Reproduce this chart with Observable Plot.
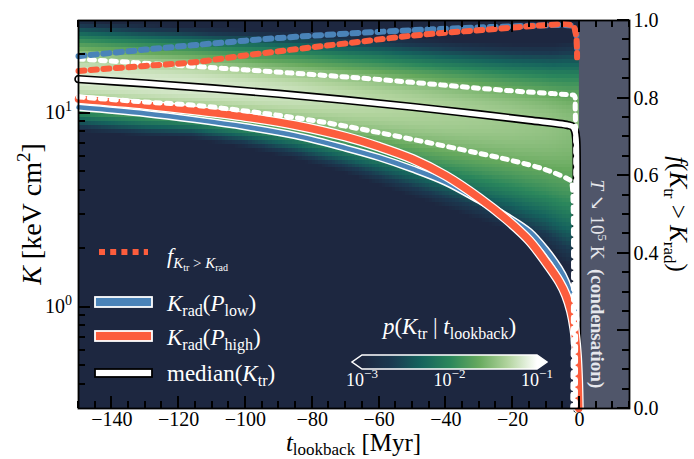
<!DOCTYPE html>
<html>
<head>
<meta charset="utf-8">
<script src="https://cdn.jsdelivr.net/npm/d3@7"></script>
<script src="https://cdn.jsdelivr.net/npm/@observablehq/plot@0.6"></script>
<style>
  html, body { margin: 0; padding: 0; background: #fff; }
  #chart svg { display: block; }
</style>
</head>
<body>
<div id="chart"></div>
<script>
const serif = "'Liberation Serif', 'Times New Roman', 'DejaVu Serif', serif";

// Axis extents and ticks
const tDomain = [-150, 15];            // lookback time [Myr]
const kDomain = [0.3, 30];             // entropy K [keV cm^2]
const xTickValues = [-140, -120, -100, -80, -60, -40, -20, 0];
const kDecades = [1, 10];
const fTickValues = [0, 0.2, 0.4, 0.6, 0.8, 1.0];
const condensationSpan = [0, 15];      // T drops below 1e5 K

// Colour map of the conditional density p(K_tr | t_lookback)
const densityDomain = [1e-3, 1e-1];
const densityTicks = [1e-3, 1e-2, 1e-1];
const densityColors = ["#1d2740", "#1b3950", "#15625d", "#2a865c", "#66a95d", "#b2d49e", "#ffffff"];

// Median of K_tr
const medianT = [-150, -130, -110, -90, -70, -50, -30, -15, -3.5, -2.0, -1.3, -0.95, -0.8, -0.75];
const medianK = [14.96, 14.21, 13.41, 12.56, 11.67, 10.76, 9.85, 9.18, 8.67, 8.5, 8.05, 7.3, 5.5, 0.3];

// 84th percentile of K_tr
const upperT = [-150, -120, -100, -80, -60, -40, -20, -8, -2.5, -1.5, -1.25, -1.2];
const upperK = [19.0, 17.6, 16.7, 15.8, 14.9, 13.9, 13.0, 12.6, 12.4, 12.3, 10.5, 0.3];

// 16th percentile of K_tr
const lowerT = [-150, -130, -116, -100, -85, -70, -50, -30, -20, -10, -3.5, -2.5, -2.1, -2.0];
const lowerK = [12.1, 11.4, 11.0, 10.25, 9.46, 8.56, 7.32, 6.2, 5.68, 5.1, 4.58, 4.45, 4.15, 0.3];

// Radiative-cooling entropy for the low and high pressure
const radLowT = [-150, -130, -115, -100, -85, -70, -60, -50, -40, -30, -22, -15, -10, -6, -4, -2.5, -1.5, -1.1];
const radLowK = [10.7, 9.95, 9.25, 8.5, 7.65, 6.6, 5.9, 5.15, 4.4, 3.55, 2.95, 2.45, 1.97, 1.58, 1.36, 1.14, 0.96, 0.86];
const radHighT = [-150, -130, -115, -100, -85, -70, -60, -50, -40, -30, -22, -15, -10, -6, -4, -2.5, -1.5, -0.8, -0.4, -0.2];
const radHighK = [11.8, 11.0, 10.3, 9.55, 8.65, 7.55, 6.7, 5.8, 4.75, 3.65, 2.85, 2.2, 1.7, 1.35, 1.15, 0.95, 0.77, 0.58, 0.42, 0.3];

// Fraction of tracers with K_tr > K_rad (right axis)
const fracT = [-150, -130, -116, -100, -85, -70, -50, -30, -12, -3.5, -1.8, -1.0, -0.75, -0.7];
const fracLow = [0.908, 0.925, 0.936, 0.948, 0.958, 0.966, 0.975, 0.982, 0.987, 0.988, 0.984, 0.965, 0.935, 0.915];
const fracHigh = [0.870, 0.883, 0.892, 0.910, 0.926, 0.941, 0.961, 0.975, 0.987, 0.990, 0.985, 0.962, 0.930, 0.905];

// ---------------------------------------------------------------------------
const RED = "#fc5d3d", BLUE = "#4a83b8", SLATE = "#50566a";
const ramp = d3.piecewise(d3.interpolateRgb, densityColors);

// f in [0, 1] shares the vertical extent of the log K axis
const fToK = f => kDomain[0] * Math.pow(kDomain[1] / kDomain[0], f);
const kToF = k => Math.log(k / kDomain[0]) / Math.log(kDomain[1] / kDomain[0]);
const rows = (ts, vs) => ts.map((t, i) => ({t, v: vs[i]}));

// Piecewise-linear interpolation in log K, held constant outside the nodes
function logInterp(ts, ks, tMax) {
  const pts = ts.map((t, i) => [t, Math.log10(ks[i])]).filter(p => p[0] <= tMax);
  return t => {
    if (t <= pts[0][0]) return pts[0][1];
    for (let i = 1; i < pts.length; i++) {
      if (t <= pts[i][0]) {
        const a = pts[i - 1], b = pts[i], u = (t - a[0]) / (b[0] - a[0]);
        return a[1] + u * (b[1] - a[1]);
      }
    }
    return pts[pts.length - 1][1];
  };
}

// Density grid: per-time distribution of log K built from the median and percentiles
const tBin = 1, logBin = 0.02, peakScale = 0.85;
const med = logInterp(medianT, medianK, -3), hi = logInterp(upperT, upperK, -3), lo = logInterp(lowerT, lowerK, -3);
const cells = [];
const logMin = Math.log10(kDomain[0]), nRows = Math.round((Math.log10(kDomain[1]) - logMin) / logBin);
for (let t0 = tDomain[0]; t0 < condensationSpan[0]; t0 += tBin) {
  const tc = t0 + tBin / 2, m = med(tc), su = hi(tc) - m, sl = m - lo(tc);
  const peak = peakScale * logBin / (Math.sqrt(2 * Math.PI) * (su + sl) / 2);
  for (let r = 0; r < nRows; r++) {
    const l0 = logMin + r * logBin, d = l0 + logBin / 2 - m, s = d > 0 ? su : sl;
    const p = peak * Math.exp(-0.5 * (d / s) ** 2);
    if (p > 7e-4) cells.push({x1: t0, x2: t0 + tBin, y1: 10 ** l0, y2: 10 ** (l0 + logBin), p});
  }
}

const W = 694, H = 459, mL = 78, mR = 65, mT = 20, mB = 51;
const majorLen = 12, minorLen = 7;
const xMinor = d3.range(tDomain[0], tDomain[1] + 0.1, 5);
const kMinor = [0.4, 0.5, 0.6, 0.7, 0.8, 0.9, 2, 3, 4, 5, 6, 7, 8, 9, 20];
const fMinor = d3.range(0.05, 1, 0.05);

const line = (data, opts) => Plot.line(data, {x: "t", y: "v", curve: "catmull-rom", strokeLinejoin: "round", ...opts});
const fline = (data, opts) => Plot.line(data, {x: "t", y: d => fToK(d.v), curve: "catmull-rom", ...opts});

const plot = Plot.plot({
  width: W, height: H,
  marginLeft: mL, marginRight: mR, marginTop: mT, marginBottom: mB,
  x: {domain: tDomain, axis: null},
  y: {type: "log", domain: kDomain, axis: null},
  color: {type: "log", domain: densityDomain, interpolate: ramp, clamp: true},
  style: {fontFamily: serif, fontSize: "20px", background: "#fff", color: "#000", overflow: "visible"},
  marks: [
    Plot.frame({fill: ramp(0), stroke: null}),
    Plot.rect(cells, {x1: "x1", x2: "x2", y1: "y1", y2: "y2", fill: "p", shapeRendering: "crispEdges"}),
    Plot.rect([condensationSpan], {x1: d => d[0], x2: d => d[1], fill: SLATE}),

    // median
    line(rows(medianT, medianK), {stroke: "black", strokeWidth: 8.5}),
    line(rows(medianT, medianK), {stroke: "white", strokeWidth: 5.2}),
    // K_rad curves
    line(rows(radLowT, radLowK), {stroke: "white", strokeWidth: 7.5}),
    line(rows(radLowT, radLowK), {stroke: BLUE, strokeWidth: 4.5}),
    line(rows(radHighT, radHighK), {stroke: "white", strokeWidth: 10}),
    line(rows(radHighT, radHighK), {stroke: RED, strokeWidth: 7.5}),
    // percentiles
    line(rows(upperT, upperK), {stroke: "white", strokeWidth: 5, strokeDasharray: "5 6"}),
    line(rows(lowerT, lowerK), {stroke: "white", strokeWidth: 5, strokeDasharray: "5 6"}),
    // fractions on the right axis
    fline(rows(fracT, fracLow), {stroke: BLUE, strokeWidth: 6, strokeDasharray: "6 6.5"}),
    fline(rows(fracT, fracHigh), {stroke: RED, strokeWidth: 6, strokeDasharray: "6 6.5"}),

    Plot.axisX({anchor: "bottom", ticks: xTickValues, tickSize: 0, tickPadding: 3, label: null,
      tickFormat: d => d < 0 ? "\u2212" + (-d) : String(d)}),
    Plot.axisY({anchor: "right", ticks: fTickValues.map(fToK), tickSize: 0, tickPadding: 4, label: null,
      tickFormat: k => kToF(k).toFixed(1)}),
    Plot.frame({stroke: "black", strokeWidth: 1.8})
  ]
});
document.getElementById("chart").appendChild(plot);

// ---------------------------------------------------------------------------
const svg = d3.select(plot);
const X = plot.scale("x"), Y = plot.scale("y"), C = plot.scale("color");
const frameLeft = X.apply(tDomain[0]), frameRight = X.apply(tDomain[1]);
const frameTop = Y.apply(kDomain[1]), frameBottom = Y.apply(kDomain[0]);
const midY = (frameTop + frameBottom) / 2;

// Inward ticks on all four sides, positioned with the plot's scales
const tk = svg.append("g").attr("stroke", "#000").attr("stroke-width", 2)
  .attr("fill", "none").attr("shape-rendering", "crispEdges");
const seg = (x1, y1, x2, y2) => tk.append("line").attr("x1", x1).attr("y1", y1).attr("x2", x2).attr("y2", y2);
for (const v of xMinor) {
  const x = X.apply(v), len = xTickValues.includes(v) ? majorLen : minorLen;
  seg(x, frameBottom, x, frameBottom - len);
  seg(x, frameTop, x, frameTop + len);
}
for (const k of kMinor) { const y = Y.apply(k); seg(frameLeft, y, frameLeft + minorLen, y); }
for (const k of kDecades) { const y = Y.apply(k); seg(frameLeft, y, frameLeft + majorLen, y); }
for (const f of fMinor) { const y = Y.apply(fToK(f)); seg(frameRight, y, frameRight - minorLen, y); }
for (const f of fTickValues) { const y = Y.apply(fToK(f)); seg(frameRight, y, frameRight - majorLen, y); }

// Rich text (italics, sub/superscripts) drawn on top of the plot
const g = svg.append("g").attr("font-family", serif);

function rich(x, y, parts, {anchor = "start", rotate = 0, fill = "#000", size = 20} = {}) {
  const text = g.append("text")
    .attr("transform", `translate(${x},${y})` + (rotate ? ` rotate(${rotate})` : ""))
    .attr("text-anchor", anchor).attr("fill", fill).attr("font-size", size);
  let prev = 0;
  for (const p of parts) {
    const o = p.o || 0;
    const s = text.append("tspan").text(p.t).attr("dy", o - prev);
    if (p.s) s.attr("font-size", p.s);
    if (p.i) s.attr("font-style", "italic");
    if (p.b) s.attr("font-weight", "bold");
    prev = o;
  }
  return text;
}

// left tick labels 10^n
for (const k of kDecades) {
  rich(frameLeft - 6, Y.apply(k) + 6, [{t: "10"}, {t: String(Math.round(Math.log10(k))), s: 14, o: -8}], {anchor: "end"});
}

// axis titles
rich((frameLeft + frameRight) / 2, H - 8, [
  {t: "t", i: true}, {t: "lookback", s: 17, o: 4}, {t: "\u00a0[Myr]"}
], {anchor: "middle", size: 25});
rich(41, midY, [
  {t: "K", i: true}, {t: "\u00a0[keV\u00a0cm"}, {t: "2", s: 19, o: -11}, {t: "]"}
], {anchor: "middle", rotate: -90, size: 28});
rich(frameRight + 41, midY, [
  {t: "f", i: true}, {t: "("}, {t: "K", i: true}, {t: "tr", s: 17, o: 6},
  {t: "\u00a0>\u00a0"}, {t: "K", i: true}, {t: "rad", s: 17, o: 6}, {t: ")"}
], {anchor: "middle", rotate: 90, size: 25});

// condensation band label
rich(X.apply(3.6), Y.apply(fToK(0.32)), [
  {t: "T", i: true}, {t: "\u00a0\u2198\u00a010"}, {t: "5", s: 13, o: -7}, {t: "\u00a0K\u00a0\u00a0"},
  {t: "(condensation)", b: true}
], {anchor: "middle", rotate: 90, size: 19, fill: "#e6e7ec"});

// line legend
const lg = {x0: 95, x1: 152, tx: 167};
g.append("line").attr("x1", lg.x0 + 4).attr("x2", lg.x1 - 4).attr("y1", 252).attr("y2", 252)
  .attr("stroke", RED).attr("stroke-width", 6).attr("stroke-dasharray", "6 5.2");
rich(lg.tx, 263, [
  {t: "f", i: true}, {t: "K", i: true, s: 15, o: 5}, {t: "tr", s: 10, o: 8}, {t: "\u00a0>\u00a0", s: 15, o: 5},
  {t: "K", i: true, s: 15, o: 5}, {t: "rad", s: 10, o: 8}
], {fill: "#fff", size: 22});
const swatch = (y, h, fill, stroke) => g.append("rect").attr("x", lg.x0).attr("y", y).attr("width", lg.x1 - lg.x0)
  .attr("height", h).attr("fill", fill).attr("stroke", stroke).attr("stroke-width", 1.8);
swatch(297, 10, BLUE, "white");
rich(lg.tx, 311, [{t: "K", i: true}, {t: "rad", s: 16, o: 5}, {t: "(", o: 0}, {t: "P", i: true}, {t: "low", s: 16, o: 5}, {t: ")", o: 0}], {fill: "#fff", size: 23});
swatch(331, 10, RED, "white");
rich(lg.tx, 345, [{t: "K", i: true}, {t: "rad", s: 16, o: 5}, {t: "(", o: 0}, {t: "P", i: true}, {t: "high", s: 16, o: 5}, {t: ")", o: 0}], {fill: "#fff", size: 23});
swatch(369, 8, "white", "black");
rich(lg.tx, 381, [{t: "median("}, {t: "K", i: true}, {t: "tr", s: 16, o: 5}, {t: ")", o: 0}], {fill: "#fff", size: 23});

// colour bar
const cb = {x0: 362, x1: 537, y0: 355, y1: 369, tip: 10};
const cbX = d3.scaleLog().domain(densityDomain).range([cb.x0, cb.x1]);
const grad = svg.append("defs").append("linearGradient").attr("id", "density-ramp")
  .attr("x1", 0).attr("x2", 1).attr("y1", 0).attr("y2", 0);
for (let i = 0; i <= 40; i++) {
  const v = cbX.invert(cb.x0 + (cb.x1 - cb.x0) * i / 40);
  grad.append("stop").attr("offset", i / 40).attr("stop-color", C.apply(v));
}
const cbMid = (cb.y0 + cb.y1) / 2;
g.append("rect").attr("x", cb.x0).attr("y", cb.y0).attr("width", cb.x1 - cb.x0).attr("height", cb.y1 - cb.y0)
  .attr("fill", "url(#density-ramp)");
g.append("polygon").attr("points", `${cb.x0},${cb.y0} ${cb.x0 - cb.tip},${cbMid} ${cb.x0},${cb.y1}`)
  .attr("fill", C.apply(densityDomain[0]));
g.append("polygon").attr("points", `${cb.x1},${cb.y0} ${cb.x1 + cb.tip},${cbMid} ${cb.x1},${cb.y1}`)
  .attr("fill", C.apply(densityDomain[1]));
g.append("polygon")
  .attr("points", `${cb.x0},${cb.y0} ${cb.x1},${cb.y0} ${cb.x1 + cb.tip},${cbMid} ${cb.x1},${cb.y1} ${cb.x0},${cb.y1} ${cb.x0 - cb.tip},${cbMid}`)
  .attr("fill", "none").attr("stroke", "white").attr("stroke-width", 1.5);
for (const v of densityTicks) {
  rich(cbX(v), 386, [{t: "10"}, {t: "\u2212" + Math.round(-Math.log10(v)), s: 13, o: -8}], {anchor: "middle", fill: "#fff", size: 18});
}
rich((cb.x0 + cb.x1) / 2, 334, [
  {t: "p", i: true}, {t: "("}, {t: "K", i: true}, {t: "tr", s: 16, o: 5}, {t: "\u00a0|\u00a0", o: 0},
  {t: "t", i: true}, {t: "lookback", s: 16, o: 5}, {t: ")", o: 0}
], {anchor: "middle", fill: "#fff", size: 23});
</script>
</body>
</html>
